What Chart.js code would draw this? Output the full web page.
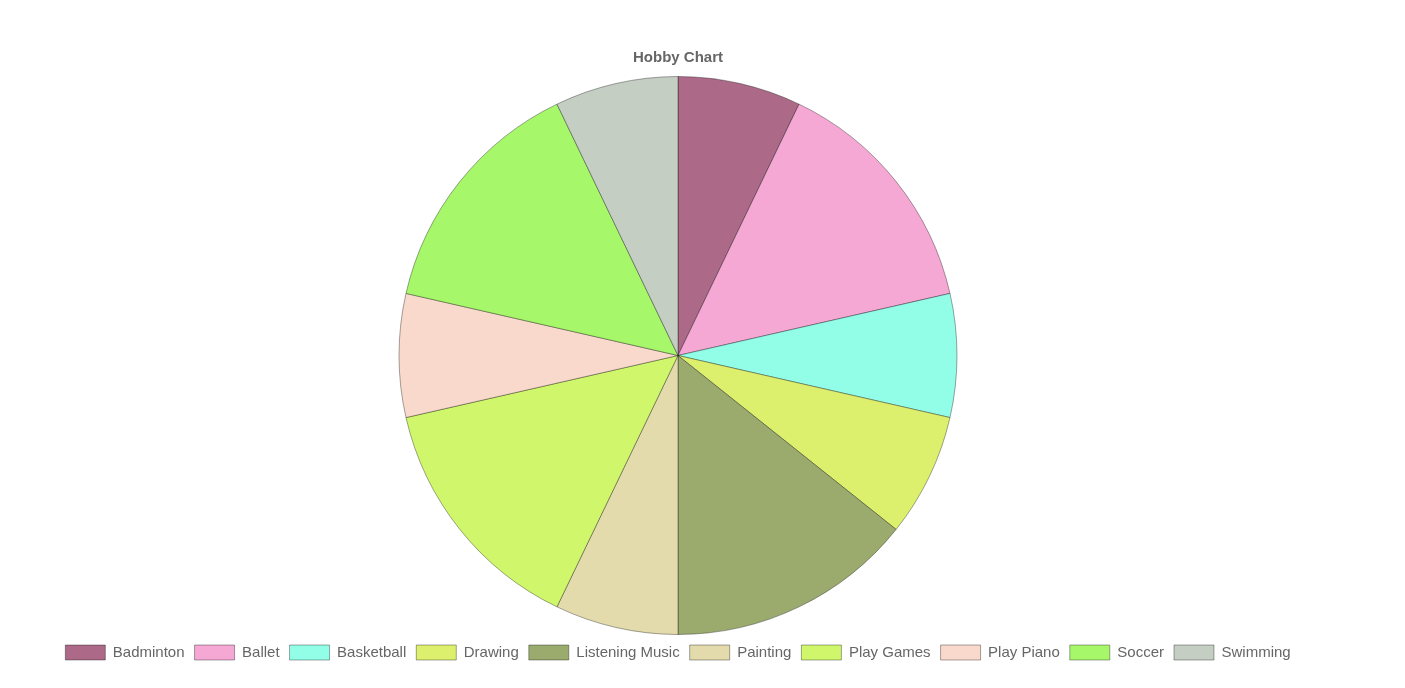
<!DOCTYPE html>
<html>
<head>
<meta charset="utf-8">
<script src="https://cdn.jsdelivr.net/npm/chart.js@4/dist/chart.umd.min.js"></script>
<style>
  body { margin: 0; background: #fff; }
  #wrap { position: absolute; left: 8px; top: 38px; width: 1340px; height: 632px; }
</style>
</head>
<body>
<div id="wrap"><canvas id="hobbyChart"></canvas></div>
<script>
// hobby names and how many picked each one
const hobbies = ['Badminton', 'Ballet', 'Basketball', 'Drawing', 'Listening Music',
                 'Painting', 'Play Games', 'Play Piano', 'Soccer', 'Swimming'];
const counts = [1, 2, 1, 1, 2, 1, 2, 1, 2, 1];
const sliceColors = ['#ac6a88', '#f6a8d5', '#92fee8', '#ddf06e', '#9bab6e',
                     '#e3dbac', '#d0f76c', '#f9d9cb', '#a7f76a', '#c5cec3'];

Chart.defaults.font.family = "'Liberation Sans', Arial, sans-serif";
Chart.defaults.color = '#666';

const ctx = document.getElementById('hobbyChart').getContext('2d');
new Chart(ctx, {
    type: 'pie',
    data: {
        labels: hobbies,
        datasets: [{
            data: counts,
            backgroundColor: sliceColors,
            borderColor: 'rgba(0,0,0,0.35)',
            borderWidth: 1
        }]
    },
    options: {
        responsive: true,
        maintainAspectRatio: false,
        animation: false,
        layout: { padding: 0 },
        plugins: {
            title: {
                display: true,
                text: 'Hobby Chart',
                color: '#666',
                font: { size: 15, weight: 'bold' },
                padding: { top: 11, bottom: 9 }
            },
            legend: {
                position: 'bottom',
                labels: { color: '#666', font: { size: 15 }, boxWidth: 40, boxHeight: 15, padding: 10 }
            }
        }
    }
});
</script>
</body>
</html>
